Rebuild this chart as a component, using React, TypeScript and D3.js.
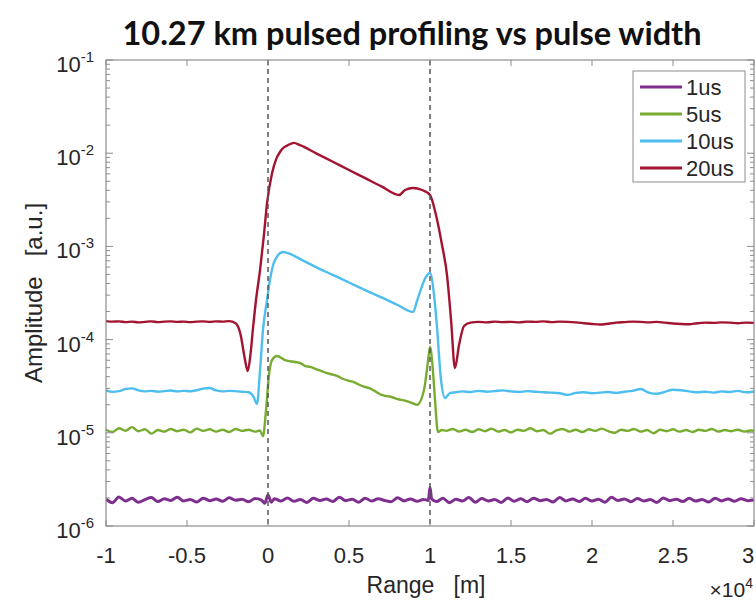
import * as d3 from "d3";

// [range in units of 10^4 m, amplitude a.u.]
type Pt = [number, number];

const pulse1us: Pt[] = [
  [-1.0, 1.95e-6], [-0.96, 1.78e-6], [-0.92, 2.05e-6], [-0.88, 1.85e-6], [-0.84, 1.98e-6],
  [-0.8, 1.8e-6], [-0.76, 1.92e-6], [-0.72, 2.02e-6], [-0.68, 1.83e-6], [-0.64, 1.96e-6],
  [-0.6, 1.88e-6], [-0.56, 2.04e-6], [-0.52, 1.86e-6], [-0.48, 1.93e-6], [-0.44, 1.81e-6],
  [-0.4, 1.99e-6], [-0.36, 1.87e-6], [-0.32, 1.95e-6], [-0.28, 1.84e-6], [-0.24, 2.01e-6],
  [-0.2, 1.89e-6], [-0.16, 1.94e-6], [-0.12, 1.82e-6], [-0.08, 1.97e-6], [-0.04, 1.9e-6],
  [-0.02, 1.75e-6], [0.0, 2.15e-6], [0.02, 1.8e-6], [0.04, 1.96e-6], [0.08, 1.86e-6],
  [0.12, 2.0e-6], [0.16, 1.84e-6], [0.2, 1.93e-6], [0.24, 1.79e-6], [0.28, 1.98e-6],
  [0.32, 1.88e-6], [0.36, 1.95e-6], [0.4, 1.83e-6], [0.44, 2.03e-6], [0.48, 1.87e-6],
  [0.52, 1.94e-6], [0.56, 1.8e-6], [0.6, 1.99e-6], [0.64, 1.85e-6], [0.68, 1.96e-6],
  [0.72, 1.88e-6], [0.76, 1.82e-6], [0.8, 2.01e-6], [0.84, 1.86e-6], [0.88, 1.95e-6],
  [0.92, 1.84e-6], [0.96, 1.93e-6], [0.99, 1.88e-6], [1.0, 2.6e-6], [1.01, 1.95e-6],
  [1.04, 1.83e-6], [1.08, 1.98e-6], [1.12, 1.78e-6], [1.16, 1.94e-6], [1.2, 1.85e-6],
  [1.24, 2.02e-6], [1.28, 1.8e-6], [1.32, 1.97e-6], [1.36, 1.86e-6], [1.4, 1.92e-6],
  [1.44, 1.79e-6], [1.48, 2.0e-6], [1.52, 1.84e-6], [1.56, 1.96e-6], [1.6, 1.82e-6],
  [1.64, 1.99e-6], [1.68, 1.87e-6], [1.72, 1.93e-6], [1.76, 1.81e-6], [1.8, 2.02e-6],
  [1.84, 1.86e-6], [1.88, 1.95e-6], [1.92, 1.83e-6], [1.96, 1.98e-6], [2.0, 1.85e-6],
  [2.04, 1.94e-6], [2.08, 1.8e-6], [2.12, 2.03e-6], [2.16, 1.88e-6], [2.2, 1.95e-6],
  [2.24, 1.82e-6], [2.28, 1.97e-6], [2.32, 1.86e-6], [2.36, 1.92e-6], [2.4, 1.79e-6],
  [2.44, 2.0e-6], [2.48, 1.87e-6], [2.52, 1.94e-6], [2.56, 1.83e-6], [2.6, 1.98e-6],
  [2.64, 1.85e-6], [2.68, 1.93e-6], [2.72, 1.81e-6], [2.76, 1.99e-6], [2.8, 1.86e-6],
  [2.84, 1.95e-6], [2.88, 1.84e-6], [2.92, 1.96e-6], [2.96, 1.87e-6], [3.0, 1.9e-6],
];

const pulse5us: Pt[] = [
  [-1.0, 1.08e-5], [-0.96, 1.02e-5], [-0.92, 1.12e-5], [-0.88, 1.05e-5], [-0.84, 1.15e-5],
  [-0.8, 1.04e-5], [-0.76, 1.09e-5], [-0.72, 0.98e-5], [-0.68, 1.07e-5], [-0.64, 1.03e-5],
  [-0.6, 1.1e-5], [-0.56, 1.04e-5], [-0.52, 1.08e-5], [-0.48, 1.01e-5], [-0.44, 1.11e-5],
  [-0.4, 1.05e-5], [-0.36, 1.09e-5], [-0.32, 1.03e-5], [-0.28, 1.08e-5], [-0.24, 1.02e-5],
  [-0.2, 1.1e-5], [-0.16, 1.05e-5], [-0.12, 1.08e-5], [-0.08, 1.03e-5], [-0.05, 1.06e-5],
  [-0.031, 0.92e-5], [-0.012, 1.76e-5], [0.006, 4.17e-5], [0.025, 6.04e-5], [0.056, 6.67e-5],
  [0.105, 6.04e-5], [0.167, 5.75e-5], [0.2, 5.6e-5], [0.23, 5.2e-5], [0.26, 5.1e-5],
  [0.3, 4.8e-5], [0.33, 4.6e-5], [0.36, 4.4e-5], [0.4, 4.2e-5], [0.43, 4.05e-5],
  [0.46, 3.8e-5], [0.5, 3.6e-5], [0.53, 3.5e-5], [0.56, 3.3e-5], [0.6, 3.1e-5],
  [0.63, 3.0e-5], [0.66, 2.8e-5], [0.7, 2.55e-5], [0.72, 2.5e-5], [0.75, 2.45e-5],
  [0.8, 2.3e-5], [0.85, 2.2e-5], [0.9, 2.05e-5], [0.92, 2.0e-5], [0.963, 2.88e-5],
  [0.985, 5.4e-5], [1.0, 8.34e-5], [1.015, 5.4e-5], [1.031, 2.25e-5], [1.049, 1.02e-5],
  [1.074, 1.07e-5], [1.1, 1.05e-5], [1.14, 1.1e-5], [1.18, 1.03e-5], [1.22, 1.08e-5],
  [1.26, 1.02e-5], [1.3, 1.09e-5], [1.34, 1.04e-5], [1.38, 1.11e-5], [1.42, 1.03e-5],
  [1.46, 1.07e-5], [1.5, 1.01e-5], [1.54, 1.08e-5], [1.58, 1.05e-5], [1.62, 1.12e-5],
  [1.66, 1.04e-5], [1.7, 1.07e-5], [1.74, 0.98e-5], [1.78, 1.06e-5], [1.82, 1.1e-5],
  [1.86, 1.03e-5], [1.9, 1.08e-5], [1.94, 1.02e-5], [1.98, 1.09e-5], [2.02, 1.05e-5],
  [2.06, 1.11e-5], [2.1, 1.04e-5], [2.14, 1.0e-5], [2.18, 1.08e-5], [2.22, 1.05e-5],
  [2.26, 1.1e-5], [2.3, 1.03e-5], [2.34, 1.07e-5], [2.38, 0.99e-5], [2.42, 1.08e-5],
  [2.46, 1.04e-5], [2.5, 1.09e-5], [2.54, 1.03e-5], [2.58, 1.07e-5], [2.62, 1.02e-5],
  [2.66, 1.08e-5], [2.7, 1.05e-5], [2.74, 1.1e-5], [2.78, 1.03e-5], [2.82, 1.07e-5],
  [2.86, 1.04e-5], [2.9, 1.08e-5], [2.94, 1.03e-5], [2.98, 1.06e-5], [3.0, 1.05e-5],
];

const pulse10us: Pt[] = [
  [-1.0, 2.85e-5], [-0.96, 2.75e-5], [-0.92, 2.8e-5], [-0.88, 2.95e-5], [-0.84, 3.0e-5],
  [-0.8, 2.85e-5], [-0.76, 2.78e-5], [-0.72, 2.82e-5], [-0.68, 2.76e-5], [-0.64, 2.8e-5],
  [-0.6, 2.84e-5], [-0.56, 2.78e-5], [-0.52, 2.82e-5], [-0.48, 2.79e-5], [-0.44, 2.86e-5],
  [-0.4, 2.98e-5], [-0.36, 3.02e-5], [-0.32, 2.85e-5], [-0.28, 2.78e-5], [-0.24, 2.82e-5],
  [-0.2, 2.8e-5], [-0.16, 2.76e-5], [-0.12, 2.72e-5], [-0.09, 2.45e-5], [-0.068, 2.04e-5],
  [-0.049, 4.72e-5], [-0.031, 1.27e-4], [-0.006, 2.66e-4], [0.012, 4.36e-4], [0.043, 7.14e-4],
  [0.093, 8.71e-4], [0.136, 8.29e-4], [0.2, 7.3e-4], [0.3, 5.95e-4], [0.4, 4.95e-4],
  [0.5, 4.1e-4], [0.6, 3.4e-4], [0.7, 2.84e-4], [0.8, 2.35e-4], [0.895, 1.98e-4],
  [0.92, 2.6e-4], [0.938, 3.24e-4], [0.975, 4.7e-4], [1.0, 5.19e-4], [1.025, 3.01e-4],
  [1.043, 1.37e-4], [1.068, 3.69e-5], [1.093, 2.36e-5], [1.123, 2.67e-5], [1.16, 2.72e-5],
  [1.2, 2.78e-5], [1.25, 2.74e-5], [1.3, 2.82e-5], [1.35, 2.76e-5], [1.4, 2.8e-5],
  [1.45, 2.85e-5], [1.5, 2.78e-5], [1.55, 2.74e-5], [1.6, 2.8e-5], [1.65, 2.76e-5],
  [1.7, 2.72e-5], [1.75, 2.7e-5], [1.8, 2.66e-5], [1.85, 2.55e-5], [1.9, 2.68e-5],
  [1.95, 2.72e-5], [2.0, 2.66e-5], [2.05, 2.7e-5], [2.1, 2.74e-5], [2.15, 2.68e-5],
  [2.2, 2.76e-5], [2.25, 2.82e-5], [2.3, 2.95e-5], [2.35, 2.7e-5], [2.4, 2.62e-5],
  [2.45, 2.75e-5], [2.5, 2.9e-5], [2.55, 2.86e-5], [2.6, 2.78e-5], [2.65, 2.72e-5],
  [2.7, 2.76e-5], [2.75, 2.7e-5], [2.8, 2.78e-5], [2.85, 2.74e-5], [2.9, 2.82e-5],
  [2.95, 2.72e-5], [3.0, 2.78e-5],
];

const pulse20us: Pt[] = [
  [-1.0, 1.58e-4], [-0.96, 1.56e-4], [-0.92, 1.57e-4], [-0.88, 1.54e-4], [-0.84, 1.56e-4],
  [-0.8, 1.53e-4], [-0.76, 1.55e-4], [-0.72, 1.57e-4], [-0.68, 1.54e-4], [-0.64, 1.56e-4],
  [-0.6, 1.57e-4], [-0.56, 1.55e-4], [-0.52, 1.56e-4], [-0.48, 1.54e-4], [-0.44, 1.56e-4],
  [-0.4, 1.57e-4], [-0.36, 1.55e-4], [-0.32, 1.57e-4], [-0.28, 1.56e-4], [-0.24, 1.58e-4],
  [-0.2, 1.5e-4], [-0.17, 1.15e-4], [-0.145, 6.5e-5], [-0.125, 4.6e-5], [-0.108, 7.0e-5],
  [-0.093, 1.3e-4], [-0.074, 2.66e-4], [-0.049, 5.6e-4], [-0.025, 1.33e-3], [-0.006, 2.92e-3],
  [0.025, 6.1e-3], [0.05, 8.6e-3], [0.074, 1.03e-2], [0.1, 1.16e-2], [0.123, 1.22e-2],
  [0.16, 1.29e-2], [0.198, 1.22e-2], [0.3, 9.9e-3], [0.4, 8.1e-3], [0.5, 6.6e-3],
  [0.6, 5.4e-3], [0.7, 4.4e-3], [0.809, 3.56e-3], [0.846, 4.03e-3], [0.895, 4.24e-3],
  [0.951, 4.03e-3], [1.0, 3.56e-3], [1.037, 2.17e-3], [1.074, 1.04e-3], [1.105, 4.93e-4],
  [1.13, 1.62e-4], [1.154, 4.95e-5], [1.179, 8.7e-5], [1.21, 1.4e-4], [1.25, 1.52e-4],
  [1.3, 1.55e-4], [1.35, 1.53e-4], [1.4, 1.56e-4], [1.45, 1.54e-4], [1.5, 1.55e-4],
  [1.55, 1.53e-4], [1.6, 1.56e-4], [1.65, 1.55e-4], [1.7, 1.57e-4], [1.75, 1.54e-4],
  [1.8, 1.56e-4], [1.85, 1.55e-4], [1.9, 1.53e-4], [1.95, 1.5e-4], [2.0, 1.47e-4],
  [2.05, 1.45e-4], [2.1, 1.48e-4], [2.15, 1.52e-4], [2.2, 1.54e-4], [2.25, 1.56e-4],
  [2.3, 1.55e-4], [2.35, 1.53e-4], [2.4, 1.55e-4], [2.45, 1.52e-4], [2.5, 1.49e-4],
  [2.55, 1.47e-4], [2.6, 1.46e-4], [2.65, 1.5e-4], [2.7, 1.52e-4], [2.75, 1.51e-4],
  [2.8, 1.53e-4], [2.85, 1.52e-4], [2.9, 1.5e-4], [2.95, 1.52e-4], [3.0, 1.51e-4],
];

const seriesNames = ["1us", "5us", "10us", "20us"];
const seriesColors = ["#7e2f8e", "#77ac30", "#4dbeee", "#a2142f"];
const seriesData = [pulse1us, pulse5us, pulse10us, pulse20us];

const xTicks = [-1, -0.5, 0, 0.5, 1, 1.5, 2, 2.5, 3];
const yExponents = [-1, -2, -3, -4, -5, -6];
const markerRanges = [0, 1];

const W = 756;
const H = 604;
const margin = { top: 60, right: 2, bottom: 78, left: 106 };
const sans = "'Liberation Sans', Arial, Helvetica, sans-serif";
const axisColor = "#8c8c8c";
const textColor = "#262626";

export default function App() {
  const x = d3.scaleLinear().domain([-1, 3]).range([margin.left, W - margin.right]);
  const y = d3.scaleLog().domain([1e-6, 1e-1]).range([H - margin.bottom, margin.top]);
  const [x0, x1] = x.range();
  const [yb, yt] = y.range();

  const line = d3
    .line<Pt>()
    .x((d) => x(d[0]))
    .y((d) => y(d[1]))
    .curve(d3.curveMonotoneX);

  const minorTicks: number[] = [];
  for (let e = -6; e < -1; e++) {
    for (let m = 2; m <= 9; m++) minorTicks.push(m * Math.pow(10, e));
  }

  return (
    <svg
      width={W}
      height={H}
      style={{ position: "fixed", left: 0, top: 0, background: "#fff" }}
      fontFamily={sans}
    >
      <defs>
        <clipPath id="plot">
          <rect x={x0} y={yt} width={x1 - x0} height={yb - yt} />
        </clipPath>
      </defs>

      <text
        x={412}
        y={45}
        textAnchor="middle"
        fontFamily="Lato, 'Open Sans', sans-serif"
        fontWeight={700}
        fontSize={32.5}
        fill="#111"
      >
        10.27 km pulsed profiling vs pulse width
      </text>

      {/* curves */}
      <g clipPath="url(#plot)" fill="none" strokeLinejoin="round">
        {seriesData.map((d, i) => (
          <path
            key={seriesNames[i]}
            d={line(d) ?? ""}
            stroke={seriesColors[i]}
            strokeWidth={i === 0 ? 3 : 2.4}
          />
        ))}
      </g>

      {/* dashed markers */}
      {markerRanges.map((r) => (
        <line
          key={r}
          x1={x(r)}
          x2={x(r)}
          y1={yt}
          y2={yb}
          stroke="#555"
          strokeWidth={1.5}
          strokeDasharray="5 4"
        />
      ))}

      {/* axes box and ticks */}
      <rect x={x0} y={yt} width={x1 - x0} height={yb - yt} fill="none" stroke={axisColor} strokeWidth={1.2} />
      {xTicks.map((t) => (
        <g key={t} stroke={axisColor} strokeWidth={1}>
          <line x1={x(t)} x2={x(t)} y1={yb} y2={yb - 6} />
          <line x1={x(t)} x2={x(t)} y1={yt} y2={yt + 6} />
        </g>
      ))}
      {yExponents.map((e) => (
        <g key={e} stroke={axisColor} strokeWidth={1}>
          <line x1={x0} x2={x0 + 7} y1={y(Math.pow(10, e))} y2={y(Math.pow(10, e))} />
          <line x1={x1} x2={x1 - 7} y1={y(Math.pow(10, e))} y2={y(Math.pow(10, e))} />
        </g>
      ))}
      {minorTicks.map((v) => (
        <g key={v} stroke={axisColor} strokeWidth={1}>
          <line x1={x0} x2={x0 + 4} y1={y(v)} y2={y(v)} />
          <line x1={x1} x2={x1 - 4} y1={y(v)} y2={y(v)} />
        </g>
      ))}

      {/* tick labels */}
      {xTicks.map((t) => (
        <text key={t} x={Math.min(x(t), W - 8)} y={563} textAnchor="middle" fontSize={22} fill={textColor}>
          {String(t)}
        </text>
      ))}
      {yExponents.map((e) => (
        <text key={e} x={94} y={y(Math.pow(10, e)) + 12} textAnchor="end" fontSize={22} fill={textColor}>
          10
          <tspan fontSize={15} dy={-10}>
            {String(e)}
          </tspan>
        </text>
      ))}

      <text x={426} y={593} textAnchor="middle" fontSize={23} fill={textColor} style={{ whiteSpace: "pre" }}>
        {"Range   [m]"}
      </text>
      <text x={753} y={597} textAnchor="end" fontSize={21} fill={textColor}>
        ×10
        <tspan fontSize={14} dy={-9}>4</tspan>
      </text>
      <text
        transform={`translate(42,${(yt + yb) / 2}) rotate(-90)`}
        textAnchor="middle"
        fontSize={24}
        fill={textColor}
        style={{ whiteSpace: "pre" }}
      >
        {"Amplitude   [a.u.]"}
      </text>

      {/* legend */}
      <g>
        <rect x={633} y={71} width={112} height={111} fill="#fff" stroke={axisColor} strokeWidth={1} />
        {seriesNames.map((n, i) => (
          <g key={n} transform={`translate(0,${87 + i * 27})`}>
            <line x1={640} x2={682} y1={0} y2={0} stroke={seriesColors[i]} strokeWidth={3} />
            <text x={686} y={8} fontSize={22} fill={textColor}>
              {n}
            </text>
          </g>
        ))}
      </g>
    </svg>
  );
}
